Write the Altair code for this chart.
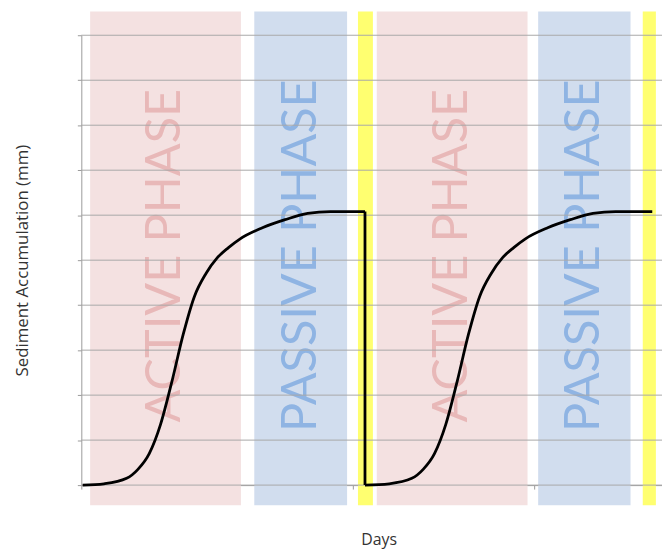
import altair as alt
import pandas as pd

# ---- data ----
# first accumulation curve (days, mm on the unlabeled 0-10 scale)
days_c1 = [0.06, 1.0, 2.0, 2.5, 3.0, 3.5, 4.0, 4.5, 5.0, 5.5, 6.0, 6.5, 7.0, 8.0, 9.0, 10.0, 11.0, 12.53]
vals_c1 = [0.0, 0.03, 0.15, 0.35, 0.7, 1.35, 2.3, 3.35, 4.2, 4.7, 5.05, 5.28, 5.47, 5.72, 5.9, 6.04, 6.08, 6.08]
# drop back to zero at the transition
days_drop = [12.53, 12.53]
vals_drop = [6.08, 0.0]
# second accumulation curve
days_c2 = [12.53, 13.6, 14.6, 15.1, 15.6, 16.1, 16.6, 17.1, 17.6, 18.1, 18.6, 19.1, 19.6, 20.6, 21.6, 22.6, 23.6, 25.22]
vals_c2 = [0.0, 0.03, 0.15, 0.35, 0.7, 1.35, 2.3, 3.35, 4.2, 4.7, 5.05, 5.28, 5.47, 5.72, 5.9, 6.04, 6.08, 6.08]

# background phase bands
band_kind = ["active", "passive", "transition", "active", "passive", "transition"]
band_start = [0.39, 7.64, 12.22, 13.05, 20.18, 24.80]
band_end = [7.05, 11.74, 12.88, 19.71, 24.26, 25.38]
band_low = -0.45
band_high = 10.53

# phase labels
label_text = ["ACTIVE PHASE", "PASSIVE PHASE", "ACTIVE PHASE", "PASSIVE PHASE"]
label_kind = ["active", "passive", "active", "passive"]
label_day = [3.72, 9.69, 16.38, 22.22]
label_val = [5.1, 5.1, 5.1, 5.1]

grid_vals = list(range(0, 11))
day_ticks = list(range(0, 26))
x_max = 25.65

# ---- tables ----
bands = pd.DataFrame({"kind": band_kind, "x0": band_start, "x1": band_end,
                      "y0": [band_low] * len(band_kind), "y1": [band_high] * len(band_kind)})
labels = pd.DataFrame({"text": label_text, "kind": label_kind, "x": label_day, "y": label_val})
c1 = pd.DataFrame({"day": days_c1, "val": vals_c1})
c2 = pd.DataFrame({"day": days_c2, "val": vals_c2})
drop = pd.DataFrame({"day": days_drop, "val": vals_drop})
grid = pd.DataFrame({"val": grid_vals, "x0": [0] * len(grid_vals), "x1": [x_max] * len(grid_vals)})

xs = alt.Scale(domain=[0, x_max], nice=False, zero=False)
ys = alt.Scale(domain=[0, 10], nice=False, zero=False)

band_layer = alt.Chart(bands).mark_rect(clip=False).encode(
    x=alt.X("x0:Q", scale=xs, axis=alt.Axis(
        values=day_ticks, labels=False, ticks=True, tickSize=4, tickColor="#9a9a9a",
        domainColor="#9a9a9a", grid=False, title="Days", titleFont="Open Sans",
        titleFontSize=16, titleFontWeight="normal", titleColor="#333333",
        titlePadding=42, titleX=300)),
    x2="x1:Q",
    y=alt.Y("y0:Q", scale=ys, axis=alt.Axis(
        values=grid_vals, labels=False, ticks=True, tickSize=4, tickColor="#9a9a9a",
        domainColor="#9a9a9a", grid=False, title="Sediment Accumulation (mm)",
        titleFont="Open Sans", titleFontSize=17, titleFontWeight="normal",
        titleColor="#333333", titlePadding=46)),
    y2="y1:Q",
    color=alt.Color("kind:N", legend=None, scale=alt.Scale(
        domain=["active", "passive", "transition"],
        range=["#f4e1e1", "#d1ddee", "#ffff70"])),
)

text_layer = alt.Chart(labels).mark_text(
    angle=270, align="center", baseline="middle",
    font="Liberation Sans Narrow, Lato", fontSize=49, fontWeight="normal"
).encode(
    x=alt.X("x:Q", scale=xs),
    y=alt.Y("y:Q", scale=ys),
    text="text:N",
    color=alt.Color("kind:N", legend=None, scale=alt.Scale(
        domain=["active", "passive"], range=["#e8b8b8", "#8fb4e3"])),
)

grid_layer = alt.Chart(grid).mark_rule(color="#a8a8a8", strokeWidth=1).encode(
    x=alt.X("x0:Q", scale=xs), x2="x1:Q", y=alt.Y("val:Q", scale=ys)
)

line1 = alt.Chart(c1).mark_line(color="black", strokeWidth=2.8, interpolate="monotone").encode(
    x=alt.X("day:Q", scale=xs), y=alt.Y("val:Q", scale=ys))
line2 = alt.Chart(c2).mark_line(color="black", strokeWidth=2.8, interpolate="monotone").encode(
    x=alt.X("day:Q", scale=xs), y=alt.Y("val:Q", scale=ys))
line_drop = alt.Chart(drop).mark_line(color="black", strokeWidth=2.8).encode(
    x=alt.X("day:Q", scale=xs), y=alt.Y("val:Q", scale=ys))

chart = alt.layer(band_layer, text_layer, grid_layer, line1, line_drop, line2).resolve_scale(
    color="independent"
).properties(
    width=586, height=454,
    autosize=alt.AutoSizeParams(type="none"),
    padding={"left": 74, "top": 25, "right": 0, "bottom": 63},
    background="white",
).configure_view(stroke=None)

chart.save("out.html", embed_options={"renderer": "svg", "actions": False})
